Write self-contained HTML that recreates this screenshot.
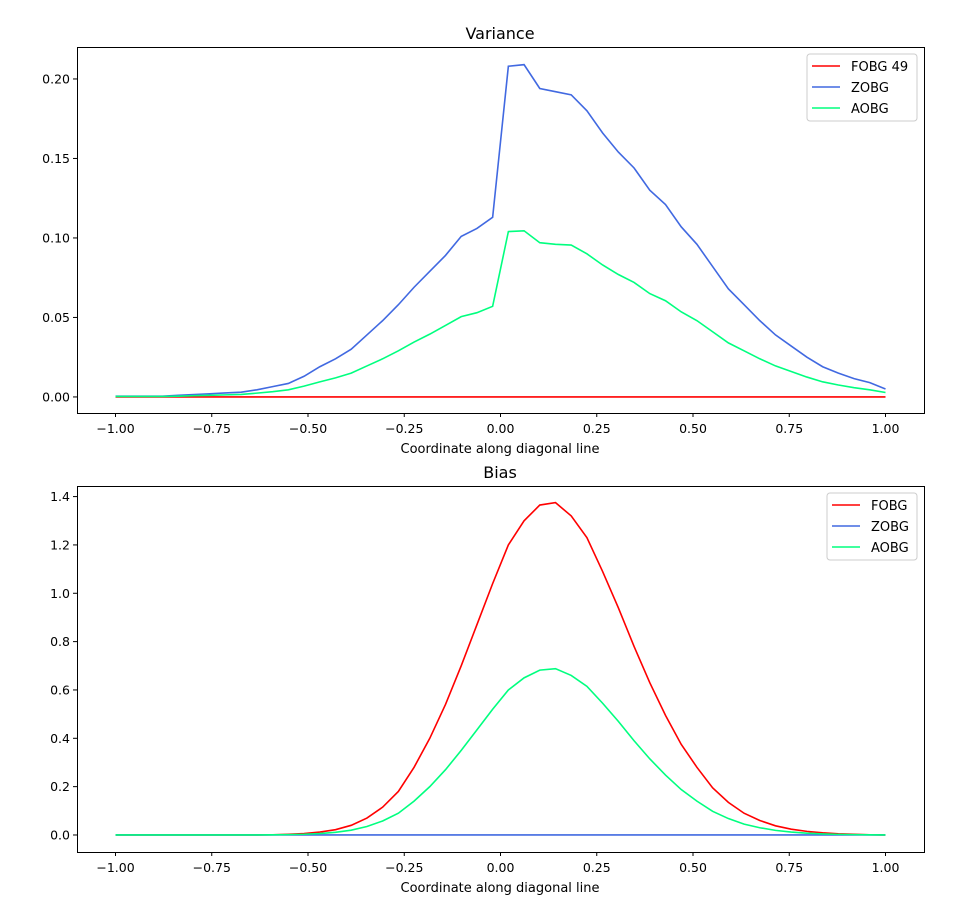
<!DOCTYPE html>
<html><head><meta charset="utf-8"><style>
body{margin:0;background:#fff;}
svg{font-family:"DejaVu Sans","Liberation Sans",sans-serif;}
</style></head><body>
<svg id="fig" width="970" height="917" xmlns="http://www.w3.org/2000/svg"></svg>
<script>
const varZOBG=[0.0005,0.0005,0.0005,0.0005,0.001,0.0015,0.002,0.0025,0.003,0.0045,0.0065,0.0085,0.013,0.019,0.024,0.030,0.039,0.048,0.058,0.069,0.079,0.089,0.101,0.106,0.113,0.208,0.209,0.194,0.192,0.190,0.180,0.166,0.154,0.144,0.130,0.121,0.107,0.096,0.082,0.068,0.058,0.048,0.039,0.032,0.025,0.019,0.015,0.0115,0.009,0.005];
const varAOBG=[0.0003,0.0003,0.0003,0.0003,0.0005,0.0008,0.001,0.0013,0.0016,0.0024,0.0033,0.0045,0.0068,0.0095,0.012,0.015,0.0195,0.024,0.029,0.0345,0.0395,0.045,0.0505,0.053,0.057,0.104,0.1045,0.097,0.096,0.0955,0.090,0.083,0.077,0.072,0.065,0.0605,0.0535,0.048,0.041,0.034,0.029,0.024,0.0195,0.016,0.0125,0.0095,0.0075,0.0058,0.0045,0.0028];
const varFOBG=new Array(50).fill(0);
const biasFOBG=[0,0,0,0,0,0,0,0,0,0,0.001,0.003,0.006,0.012,0.022,0.04,0.07,0.115,0.18,0.28,0.40,0.54,0.70,0.87,1.04,1.20,1.30,1.365,1.375,1.32,1.23,1.09,0.94,0.78,0.63,0.495,0.375,0.28,0.195,0.135,0.09,0.06,0.038,0.024,0.015,0.009,0.005,0.003,0.001,0];
const biasAOBG=[0,0,0,0,0,0,0,0,0,0,0.0005,0.0015,0.003,0.006,0.011,0.02,0.035,0.058,0.09,0.14,0.20,0.27,0.35,0.435,0.52,0.60,0.65,0.682,0.688,0.66,0.615,0.545,0.47,0.39,0.315,0.248,0.188,0.14,0.098,0.068,0.045,0.03,0.019,0.012,0.0075,0.0045,0.0025,0.0015,0.0005,0];
const biasZOBG=new Array(50).fill(0);
const xTicks=[-1.00,-0.75,-0.50,-0.25,0.00,0.25,0.50,0.75,1.00];
const varTicks=[0.00,0.05,0.10,0.15,0.20];
const biasTicks=[0.0,0.2,0.4,0.6,0.8,1.0,1.2,1.4];
const xs=varZOBG.map((_,i)=>-1+2*i/49);

const svg=document.getElementById('fig');
const NS='http://www.w3.org/2000/svg';
function el(t,a,txt){const e=document.createElementNS(NS,t);for(const k in a)e.setAttribute(k,a[k]);if(txt!==undefined)e.textContent=txt;svg.appendChild(e);return e;}
function fmt(v,d){const s=Math.abs(v).toFixed(d);return v<0?'\u2212'+s:s;}

function panel(p){
  const X=v=>77+(v+1.1)/2.2*(924-77);
  const Y=v=>p.bot-(v-p.ymin)/(p.ymax-p.ymin)*(p.bot-p.top);
  const t=el('text',{x:500,y:p.top-8,'text-anchor':'middle','font-size':16,fill:'#000'},p.title);
  
  p.series.forEach(s=>{
    const d=s.data.map((v,i)=>(i?'L':'M')+X(xs[i]).toFixed(2)+','+Y(v).toFixed(2)).join('');
    const l=el('path',{d:d,fill:'none',stroke:s.color,'stroke-width':1.6});
    
    
  });
  const r=el('rect',{x:77.5,y:p.top+0.5,width:847,height:p.bot-p.top,fill:'none',stroke:'#000','stroke-width':1});
  
  xTicks.forEach(v=>{
    el('line',{x1:X(v),x2:X(v),y1:p.bot+0.5,y2:p.bot+4,stroke:'#000'});
    const tx=el('text',{x:X(v),y:p.bot+20,'text-anchor':'middle','font-size':12.5},fmt(v,2));
    
  });
  p.ticks.forEach(v=>{
    el('line',{x1:73,x2:77.5,y1:Y(v),y2:Y(v),stroke:'#000'});
    const ty=el('text',{x:70,y:Y(v)+4.5,'text-anchor':'end','font-size':12.5},fmt(v,p.dec));
    
  });
  const xl=el('text',{x:500,y:p.bot+40,'text-anchor':'middle','font-size':13},'Coordinate along diagonal line');
  
  const L=p.legend;
  const lg=el('rect',{x:L.x,y:L.y,width:917-L.x,height:67,rx:3,fill:'#fff',stroke:'#ccc'});
  
  p.series.forEach((s,i)=>{
    const yy=L.y+12+i*21;
    el('line',{x1:L.x+5,x2:L.x+33,y1:yy,y2:yy,stroke:s.color,'stroke-width':1.6});
    const lt=el('text',{x:L.x+44,y:yy+5,'font-size':13},s.name);
    
  });
}
panel({id:'variance',title:'Variance',top:47,bot:413,ymin:-0.0101,ymax:0.2201,ticks:varTicks,dec:2,
  legend:{x:807,y:54},
  series:[{name:'FOBG 49',color:'#ff0000',data:varFOBG},{name:'ZOBG',color:'#4169e1',data:varZOBG},{name:'AOBG',color:'#00ff7f',data:varAOBG}]});
panel({id:'bias',title:'Bias',top:486,bot:852,ymin:-0.0704,ymax:1.4438,ticks:biasTicks,dec:1,
  legend:{x:827,y:493},
  series:[{name:'FOBG',color:'#ff0000',data:biasFOBG},{name:'ZOBG',color:'#4169e1',data:biasZOBG},{name:'AOBG',color:'#00ff7f',data:biasAOBG}]});
</script>
</body></html>
